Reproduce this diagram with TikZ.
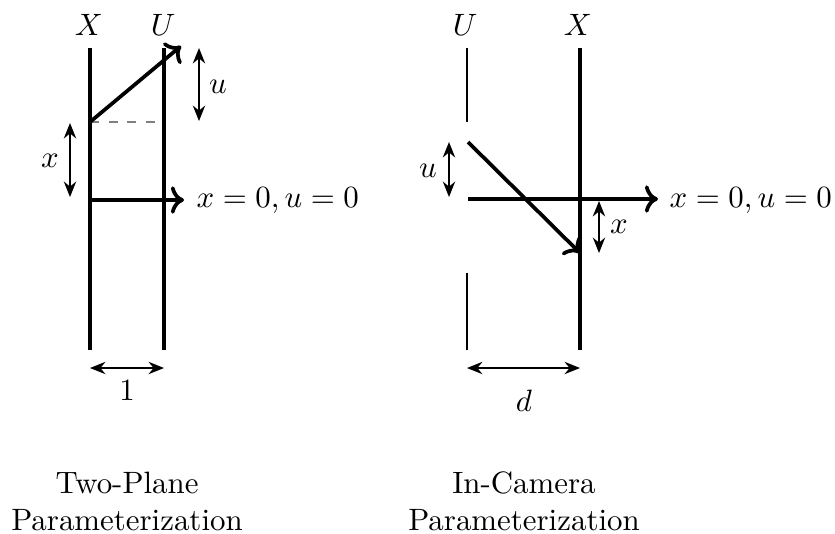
\documentclass[tikz,border=0pt]{standalone}
\usetikzlibrary{arrows.meta}
\begin{document}
\begin{tikzpicture}[x=0.3237pt,y=-0.3237pt,
  plane/.style={line width=1.1pt},
  thinplane/.style={line width=0.45pt},
  ray/.style={line width=1.2pt,->},
  dim/.style={line width=0.5pt,{Stealth[length=5pt,width=4pt]}-{Stealth[length=5pt,width=4pt]}},
  lbl/.style={anchor=base,inner sep=0pt},
  captext/.style={anchor=north,align=center,inner sep=0pt}]
\useasboundingbox (0,0) rectangle (835,533);
% ---------- left: two-plane ----------
\coordinate (XLt) at (90,48);  \coordinate (XLb) at (90,350);
\coordinate (ULt) at (164,48); \coordinate (ULb) at (164,350);
\draw[plane] (XLt) -- (XLb);
\draw[plane] (ULt) -- (ULb);
\node[lbl] (labXL) at (89,35) {$X$};
\node[lbl] (labUL) at (163,35) {$U$};
\coordinate (rs) at (90,122);
\coordinate (re) at (181,46);
\coordinate (rd) at (164,122);
\draw[gray,dashed,line width=0.5pt] (rs) -- (rd);
\draw[ray] (rs) -- (re);
\coordinate (h0) at (90,200); \coordinate (h1) at (184,200);
\draw[ray] (h0) -- (h1);
\node[anchor=base west,inner sep=0pt] (eqL) at (196,207) {$x=0,u=0$};
\coordinate (ua) at (199,48); \coordinate (ub) at (199,121);
\draw[dim] (ua) -- (ub);
\node[lbl] (uL) at (218,93) {$u$};
\coordinate (xa) at (70,123); \coordinate (xb) at (70,197);
\draw[dim] (xa) -- (xb);
\node[lbl] (xL) at (50,167) {$x$};
\coordinate (oa) at (90,368); \coordinate (ob) at (164,368);
\draw[dim] (oa) -- (ob);
\node[lbl] (one) at (127,400) {$1$};
\node[captext] (capL) at (127,471.5) {Two-Plane\\Parameterization};
% ---------- right: in-camera ----------
\coordinate (URt) at (467,48);  \coordinate (URm) at (467,122);
\coordinate (URn) at (467,273); \coordinate (URb) at (467,350);
\coordinate (XRt) at (580,48);  \coordinate (XRb) at (580,350);
\draw[thinplane] (URt) -- (URm);
\draw[thinplane] (URn) -- (URb);
\draw[plane] (XRt) -- (XRb);
\node[lbl] (labUR) at (465,35) {$U$};
\node[lbl] (labXR) at (578,35) {$X$};
\coordinate (hr0) at (468,199); \coordinate (hr1) at (658,199);
\draw[ray] (hr0) -- (hr1);
\node[anchor=base west,inner sep=0pt] (eqR) at (669,207) {$x=0,u=0$};
\coordinate (ds) at (468,142); \coordinate (de) at (580,253);
\draw[ray] (ds) -- (de);
\coordinate (ura) at (449,142); \coordinate (urb) at (449,197);
\draw[dim] (ura) -- (urb);
\node[lbl] (uR) at (428,177) {$u$};
\coordinate (xra) at (599,201); \coordinate (xrb) at (599,253);
\draw[dim] (xra) -- (xrb);
\node[lbl] (xR) at (619,233) {$x$};
\coordinate (da) at (467,368); \coordinate (db) at (580,368);
\draw[dim] (da) -- (db);
\node[lbl] (dd) at (524,411) {$d$};
\node[captext] (capR) at (524,471.5) {In-Camera\\Parameterization};
\end{tikzpicture}
\end{document}
